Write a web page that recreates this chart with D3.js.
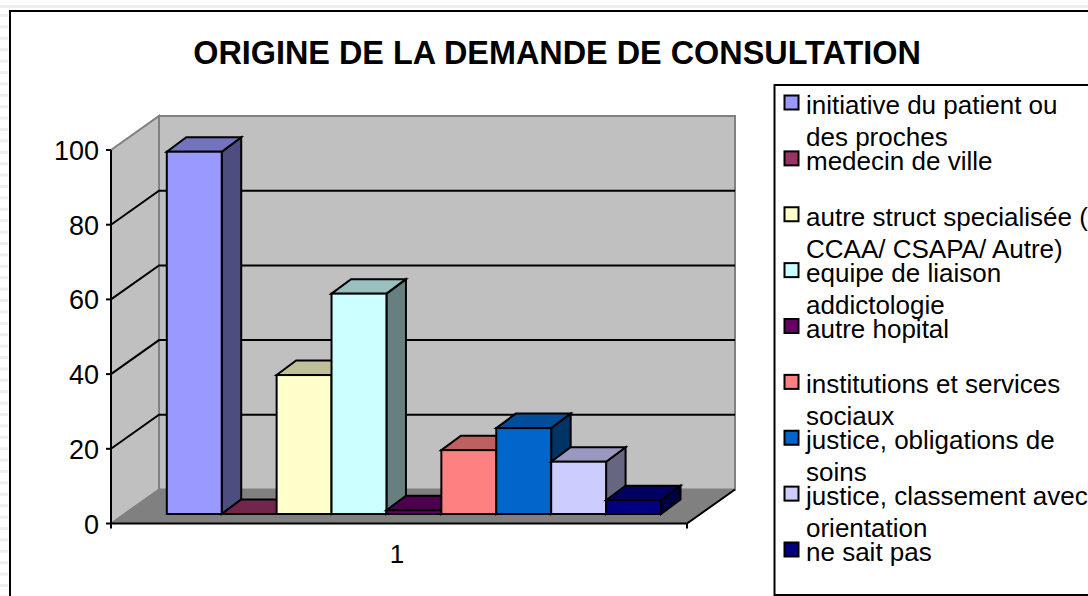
<!DOCTYPE html>
<html>
<head>
<meta charset="utf-8">
<script src="https://cdn.jsdelivr.net/npm/d3@7"></script>
<style>
html,body{margin:0;padding:0;background:#fff;overflow:hidden}
svg{display:block}
text{font-family:"Liberation Sans",Arial,sans-serif;fill:#000}
</style>
</head>
<body>
<svg id="chart" width="1088" height="596"></svg>
<script>
var title = "ORIGINE DE LA DEMANDE DE CONSULTATION";
var category = "1";
var seriesNames = ["initiative du patient ou|des proches","medecin de ville","autre struct specialisée (|CCAA/ CSAPA/ Autre)","equipe de liaison|addictologie","autre hopital","institutions et services|sociaux","justice, obligations de|soins","justice, classement avec|orientation","ne sait pas"];
var seriesValues = [97,0,37.2,59,1,17.1,23,14,3.7];
var seriesColors = ["#9999ff","#993366","#ffffcc","#ccffff","#660066","#ff8080","#0066cc","#ccccff","#000080"];
var yTicks = [0,20,40,60,80,100];

var svg = d3.select("#chart");
var depthX = 48, depthY = 34, barDX = 19.5, barDY = 14.5;
var x0 = 111, x1 = 687, y0 = 523.5, y100 = 150;

var y = d3.scaleLinear().domain([0,100]).range([y0,y100]);
var band = d3.scaleBand().domain(d3.range(seriesValues.length)).range([166.8,661]);
var line = d3.line();

function shade(col,k){
    var c = d3.rgb(col);
    return d3.rgb(c.r*k,c.g*k,c.b*k).formatHex();
}

// page stripes on the left and top
var stripes = svg.append("g").attr("fill","#eeeeee");
stripes.append("rect").attr("x",0).attr("y",5).attr("width",1088).attr("height",3);
d3.range(14,596,11.4).forEach(function(d){
    stripes.append("rect").attr("x",0).attr("y",d).attr("width",8).attr("height",3);
});

// frame
svg.append("path").attr("d","M10,596V11H1088").attr("fill","none").attr("stroke","#000").attr("stroke-width",2);

svg.append("text").attr("x",557).attr("y",64).attr("text-anchor","middle")
    .attr("font-size",32.4).attr("font-weight","bold").text(title);

// walls
var walls = svg.append("g");
walls.append("path").attr("fill","#c0c0c0").attr("stroke","#808080").attr("stroke-width",2)
    .attr("d",line([[x0+depthX,y(100)-depthY],[x1+depthX,y(100)-depthY],[x1+depthX,y0-depthY],[x0+depthX,y0-depthY]])+"Z");
walls.append("path").attr("fill","#c0c0c0").attr("stroke","#808080").attr("stroke-width",2)
    .attr("d",line([[x0,y(100)],[x0+depthX,y(100)-depthY],[x0+depthX,y0-depthY],[x0,y0]])+"Z");
walls.append("path").attr("fill","#808080")
    .attr("d",line([[x0,y0],[x0+depthX,y0-depthY],[x1+depthX,y0-depthY],[x1,y0]])+"Z");

// gridlines
var grid = svg.append("g").attr("fill","none").attr("stroke","#000").attr("stroke-width",2);
yTicks.filter(function(d){ return d>0 && d<100; }).forEach(function(d){
    grid.append("path").attr("d",line([[x0,y(d)],[x0+depthX,y(d)-depthY],[x1+depthX,y(d)-depthY]]));
});

// floor edges and axes
var axes = svg.append("g").attr("fill","none").attr("stroke","#000").attr("stroke-width",2);
axes.append("path").attr("d",line([[x0,y(100)],[x0,y0]]));
axes.append("path").attr("d",line([[x0,y0],[x1,y0],[x1+depthX,y0-depthY]]));
axes.append("path").attr("d",line([[x1,y0],[x1,y0+5]]));
axes.append("path").attr("d",line([[x0,y0],[x0,y0+5]]));
yTicks.forEach(function(d){
    axes.append("path").attr("d",line([[x0-5,y(d)],[x0,y(d)]]));
    svg.append("text").attr("x",x0-12).attr("y",y(d)+10).attr("text-anchor","end").attr("font-size",27).text(d);
});
svg.append("text").attr("x",397).attr("y",563).attr("text-anchor","middle").attr("font-size",26).text(category);

// bars
var base = y0-9.5, unit = (y0-y100)/100;
var bars = svg.append("g").attr("stroke","#000").attr("stroke-width",2);
seriesValues.forEach(function(v,i){
    var l = band(i), r = l+band.bandwidth(), t = base-v*unit;
    bars.append("path").attr("fill",shade(seriesColors[i],0.5))
        .attr("d",line([[r,t],[r+barDX,t-barDY],[r+barDX,base-barDY],[r,base]])+"Z");
    bars.append("path").attr("fill",shade(seriesColors[i],0.75))
        .attr("d",line([[l,t],[l+barDX,t-barDY],[r+barDX,t-barDY],[r,t]])+"Z");
    bars.append("rect").attr("x",l).attr("y",t).attr("width",r-l).attr("height",base-t).attr("fill",seriesColors[i]);
});

// legend
var legend = svg.append("g");
legend.append("path").attr("d","M1088,85H774.5V595H1088").attr("fill","none").attr("stroke","#000").attr("stroke-width",2);
var legendY = d3.scaleLinear().domain([0,8]).range([114,561]);
seriesNames.forEach(function(name,i){
    var by = legendY(i);
    legend.append("rect").attr("x",784.5).attr("y",by-18.5).attr("width",14).attr("height",14)
        .attr("fill",seriesColors[i]).attr("stroke","#000").attr("stroke-width",2);
    name.split("|").forEach(function(s,j){
        legend.append("text").attr("x",806).attr("y",by+j*32).attr("font-size",26).text(s);
    });
});
</script>
</body>
</html>
